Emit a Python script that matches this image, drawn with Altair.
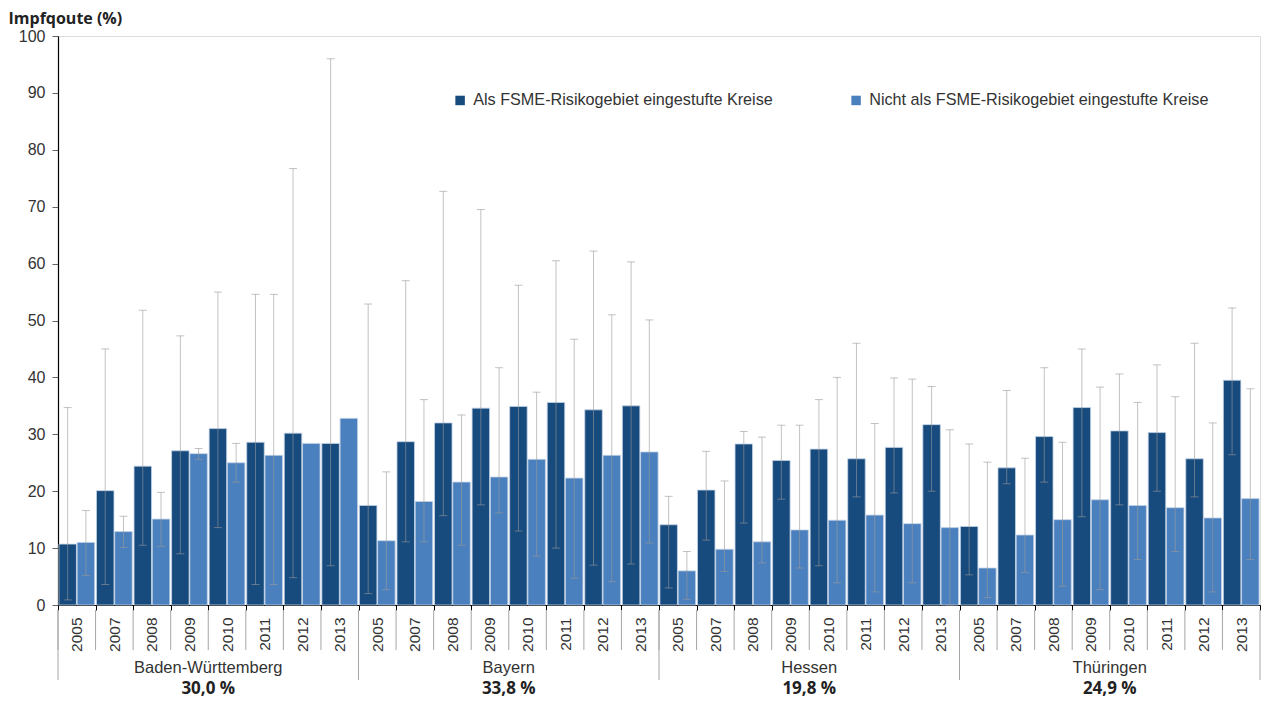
import altair as alt
import pandas as pd

# ---------------- data ----------------
states = ["Baden-Württemberg", "Bayern", "Hessen", "Thüringen"]
state_pct = ["30,0 %", "33,8 %", "19,8 %", "24,9 %"]
years = ["2005", "2007", "2008", "2009", "2010", "2011", "2012", "2013"]
series = ["Als FSME-Risikogebiet eingestufte Kreise",
          "Nicht als FSME-Risikogebiet eingestufte Kreise"]
colors = ["#174a7d", "#4b80be"]

# risk districts (mean, min, max) per state, years in order above
risk_bw = [10.7, 20.1, 24.4, 27.1, 31.0, 28.6, 30.2, 28.4]
risk_by = [17.5, 28.7, 32.0, 34.6, 34.9, 35.6, 34.3, 35.0]
risk_he = [14.1, 20.2, 28.3, 25.4, 27.4, 25.7, 27.7, 31.7]
risk_th = [13.8, 24.1, 29.6, 34.7, 30.6, 30.3, 25.7, 39.5]

risk_lo_bw = [0.9, 3.6, 10.5, 9.0, 13.6, 3.6, 4.8, 6.9]
risk_hi_bw = [34.7, 45.0, 51.8, 47.3, 55.0, 54.6, 76.7, 96.0]
risk_lo_by = [2.0, 11.1, 15.7, 17.6, 13.0, 10.0, 7.0, 7.2]
risk_hi_by = [52.9, 57.0, 72.7, 69.5, 56.2, 60.5, 62.2, 60.3]
risk_lo_he = [3.0, 11.4, 14.4, 18.6, 6.9, 19.0, 19.7, 20.0]
risk_hi_he = [19.1, 27.0, 30.5, 31.6, 36.1, 46.0, 39.9, 38.4]
risk_lo_th = [5.3, 21.3, 21.6, 15.5, 17.6, 20.0, 19.0, 26.4]
risk_hi_th = [28.3, 37.7, 41.7, 45.0, 40.6, 42.2, 46.0, 52.2]

# non-risk districts
non_bw = [11.0, 12.9, 15.1, 26.6, 25.0, 26.3, 28.4, 32.8]
non_by = [11.3, 18.2, 21.6, 22.5, 25.6, 22.3, 26.3, 26.9]
non_he = [6.0, 9.8, 11.1, 13.2, 14.9, 15.8, 14.3, 13.6]
non_th = [6.5, 12.3, 15.0, 18.5, 17.5, 17.1, 15.3, 18.7]

non_lo_bw = [5.2, 10.1, 10.3, 25.6, 21.6, 3.6, None, None]
non_hi_bw = [16.6, 15.6, 19.8, 27.5, 28.4, 54.6, None, None]
non_lo_by = [2.7, 11.1, 10.5, 16.2, 8.6, 4.7, 4.1, 10.9]
non_hi_by = [23.4, 36.1, 33.4, 41.7, 37.4, 46.7, 51.0, 50.1]
non_lo_he = [1.0, 5.9, 7.4, 6.5, 3.9, 2.3, 3.9, 0.0]
non_hi_he = [9.4, 21.8, 29.5, 31.6, 40.0, 31.9, 39.7, 30.8]
non_lo_th = [1.3, 5.7, 3.3, 2.7, 8.0, 9.4, 2.3, 8.0]
non_hi_th = [25.1, 25.8, 28.6, 38.3, 35.6, 36.6, 32.0, 38.0]

risk_vals = [risk_bw, risk_by, risk_he, risk_th]
risk_lo = [risk_lo_bw, risk_lo_by, risk_lo_he, risk_lo_th]
risk_hi = [risk_hi_bw, risk_hi_by, risk_hi_he, risk_hi_th]
non_vals = [non_bw, non_by, non_he, non_th]
non_lo = [non_lo_bw, non_lo_by, non_lo_he, non_lo_th]
non_hi = [non_hi_bw, non_hi_by, non_hi_he, non_hi_th]

# ---------------- tables ----------------
keys = [f"{s}|{y}" for s in states for y in years]
rows = []
for si, s in enumerate(states):
    for yi, y in enumerate(years):
        k = f"{s}|{y}"
        rows.append(dict(key=k, series=series[0], value=risk_vals[si][yi],
                         lo=risk_lo[si][yi], hi=risk_hi[si][yi]))
        rows.append(dict(key=k, series=series[1], value=non_vals[si][yi],
                         lo=non_lo[si][yi], hi=non_hi[si][yi]))
df = pd.DataFrame(rows)
df_err = df.dropna(subset=["lo", "hi"])

df_keys = pd.DataFrame({"key": keys})
df_last = pd.DataFrame({"key": [keys[-1]]})
df_first = pd.DataFrame({"key": [f"{s}|{years[0]}" for s in states]})
df_states = pd.DataFrame({"key": [f"{s}|{years[3]}" for s in states],
                          "state": states, "pct": state_pct})

W, H = 1202, 569
FONT = "Liberation Sans"

x_scale = alt.Scale(domain=keys, paddingInner=0, paddingOuter=0)
xo_scale = alt.Scale(domain=series, paddingInner=0.04, paddingOuter=0.05)

x_axis = alt.Axis(
    title=None,
    labelExpr="split(datum.value, '|')[1]",
    labelAngle=270, labelAlign="right", labelBaseline="middle",
    labelPadding=7, labelFontSize=15.5, labelColor="#333333", labelFont=FONT,
    tickBand="extent", tickSize=5, tickColor="#000000",
    domainColor="#000000", domainWidth=1.2,
)
y_axis = alt.Axis(
    values=list(range(0, 101, 10)),
    title="Impfqoute (%)", titleAngle=0, titleAlign="left", titleBaseline="middle",
    titleX=-50, titleY=-18, titleFont="Open Sans", titleFontSize=16,
    titleFontWeight="bold", titleColor="#222222",
    labelFontSize=16, labelColor="#333333", labelFont=FONT, labelPadding=7,
    tickSize=6, tickColor="#666666", domainColor="#000000", domainWidth=1.2,
    grid=False,
)

base = alt.Chart(df)

bars = base.mark_bar(stroke="#c4d3e6", strokeWidth=0.8).encode(
    x=alt.X("key:N", scale=x_scale, axis=x_axis, sort=keys),
    xOffset=alt.XOffset("series:N", scale=xo_scale, sort=series),
    y=alt.Y("value:Q", scale=alt.Scale(domain=[0, 100], nice=False), axis=y_axis),
    color=alt.Color("series:N", scale=alt.Scale(domain=series, range=colors),
                    legend=alt.Legend(
                        title=None, orient="none", direction="horizontal",
                        legendX=394, legendY=56, padding=0,
                        symbolType="square", symbolSize=90, symbolStrokeWidth=0,
                        labelFont=FONT, labelFontSize=16.2, labelColor="#333333",
                        labelOffset=5, columnPadding=75, labelLimit=500)),
)

err_base = alt.Chart(df_err)
err_rule = err_base.mark_rule(color="#999999", opacity=0.6, strokeWidth=1).encode(
    x=alt.X("key:N", scale=x_scale, sort=keys),
    xOffset=alt.XOffset("series:N", scale=xo_scale, sort=series),
    y=alt.Y("lo:Q"), y2="hi:Q",
)
cap_hi = err_base.mark_tick(color="#999999", opacity=0.6, size=8, thickness=1,
                            orient="horizontal").encode(
    x=alt.X("key:N", scale=x_scale, sort=keys),
    xOffset=alt.XOffset("series:N", scale=xo_scale, sort=series),
    y=alt.Y("hi:Q"),
)
cap_lo = err_base.mark_tick(color="#999999", opacity=0.6, size=8, thickness=1,
                            orient="horizontal").encode(
    x=alt.X("key:N", scale=x_scale, sort=keys),
    xOffset=alt.XOffset("series:N", scale=xo_scale, sort=series),
    y=alt.Y("lo:Q"),
)

year_sep = alt.Chart(df_keys).mark_rule(color="#a6a6a6", strokeWidth=1).encode(
    x=alt.X("key:N", scale=x_scale, sort=keys, bandPosition=0),
    y=alt.value(H + 5), y2=alt.value(H + 45),
)
year_sep_end = alt.Chart(df_last).mark_rule(color="#a6a6a6", strokeWidth=1).encode(
    x=alt.X("key:N", scale=x_scale, sort=keys, bandPosition=1),
    y=alt.value(H + 5), y2=alt.value(H + 75),
)
state_sep = alt.Chart(df_first).mark_rule(color="#a6a6a6", strokeWidth=1).encode(
    x=alt.X("key:N", scale=x_scale, sort=keys, bandPosition=0),
    y=alt.value(H + 5), y2=alt.value(H + 75),
)

state_text = alt.Chart(df_states).mark_text(
    font=FONT, fontSize=16.5, color="#333333", baseline="middle", align="center"
).encode(
    x=alt.X("key:N", scale=x_scale, sort=keys, bandPosition=1),
    y=alt.value(H + 63),
    text="state:N",
)
pct_text = alt.Chart(df_states).mark_text(
    font="Open Sans", fontSize=17, fontWeight="bold", color="#222222",
    baseline="middle", align="center"
).encode(
    x=alt.X("key:N", scale=x_scale, sort=keys, bandPosition=1),
    y=alt.value(H + 84),
    text="pct:N",
)

chart = alt.layer(
    bars, err_rule, cap_hi, cap_lo, year_sep, year_sep_end, state_sep,
    state_text, pct_text
).properties(
    width=W, height=H,
    autosize=alt.AutoSizeParams(type="none"),
    padding={"left": 50, "top": 28, "right": 1, "bottom": 95},
).configure_view(stroke=None).configure(font=FONT)

chart.save("out.html", embed_options={"renderer": "svg", "actions": False})
